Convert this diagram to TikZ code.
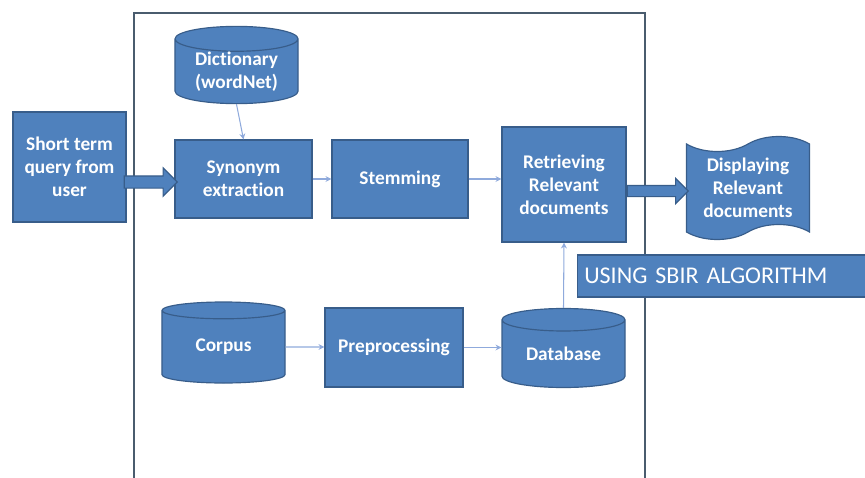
\documentclass[tikz,border=0pt]{standalone}
\usepackage{fontspec}
\setmainfont{Carlito}[Ligatures=NoCommon]
\usetikzlibrary{shapes.geometric,shapes.symbols,shapes.arrows,arrows.meta,calc}
\definecolor{boxfill}{HTML}{4F81BD}
\definecolor{boxline}{HTML}{385D8A}
\definecolor{flowline}{HTML}{8FAADC}
\definecolor{framecol}{HTML}{4A5C6E}
\tikzset{
    boxfont/.style={font=\fontsize{16.5}{19.5}\selectfont\bfseries},
    stage/.style={rectangle,draw=boxline,fill=boxfill,line width=1pt,text=white,
        boxfont,align=center,inner sep=2pt},
    store/.style={cylinder,shape border rotate=90,aspect=0.3,draw=boxline,fill=boxfill,
        line width=1pt,text=white,boxfont,align=center,inner sep=0pt,anchor=shape center},
    flow/.style={draw=flowline,line width=0.9pt,-{Stealth[length=5pt,width=5pt]}},
    fatarrow/.style={single arrow,draw=boxline,fill=boxfill,line width=1pt,
        inner xsep=0pt,minimum width=0pt,anchor=tail},
}
\begin{document}
\begin{tikzpicture}[x=0.03cm,y=-0.03cm]
    \useasboundingbox (0,0) rectangle (865,478);
    % frame of the system
    \draw[framecol,line width=1.2pt] (134,478) -- (134,13) -- (645,13) -- (645,478);
    % nodes
    \node[stage,minimum width=3.39cm,minimum height=3.3cm] (query) at (69.5,167) {Short term\\query from\\user};
    \node[store,minimum width=3.69cm,minimum height=1.98cm] (dict) at (236.5,65) {Dictionary\\(wordNet)};
    \node[stage,minimum width=4.11cm,minimum height=2.34cm] (synonym) at (243.5,179) {Synonym\\extraction};
    \node[stage,minimum width=4.08cm,minimum height=2.34cm] (stem) at (400,179) {Stemming};
    \node[stage,minimum width=3.72cm,minimum height=3.45cm] (retrieve) at (564,184.5) {Retrieving\\Relevant\\documents};
    \node[tape,draw=boxline,fill=boxfill,line width=1pt,text=white,boxfont,
        align=center,minimum width=3.69cm,minimum height=3.09cm,tape bend height=0.45cm] (display) at (748,188) {Displaying\\Relevant\\documents};
    \node[rectangle,draw=boxline,fill=boxfill,line width=1pt,text=white,font=\fontsize{20.5}{24}\selectfont,
        minimum width=8.7cm,minimum height=1.26cm,text width=8.3cm,align=left,anchor=west] (sbir) at (577,276) {USING SBIR ALGORITHM};
    \node[store,minimum width=3.69cm,minimum height=2.43cm] (corpus) at (223.5,342.5) {Corpus};
    \node[stage,minimum width=4.14cm,minimum height=2.37cm] (prep) at (394,347.5) {Preprocessing};
    \node[store,minimum width=3.69cm,minimum height=2.37cm] (db) at (563.5,348) {Database};
    % connectors
    \node[fatarrow,minimum height=1.59cm,inner ysep=0.165cm,single arrow head extend=0.24cm] (qarrow) at ($(query.east)+(-3,15)$) {};
    \node[fatarrow,minimum height=1.83cm,inner ysep=0.15cm,single arrow head extend=0.21cm] (darrow) at ($(retrieve.east)+(0,6.5)$) {};
    \draw[flow] (dict.bottom) -- (synonym.north);
    \draw[flow] (synonym.east) -- (stem.west);
    \draw[flow] (stem.east) -- (stem.east -| retrieve.west);
    \draw[flow] (corpus) -- (prep.west |- corpus);
    \draw[flow] (prep.east) -- (prep.east -| db.west);
    \draw[flow] (db.top) -- (retrieve.south);
\end{tikzpicture}
\end{document}
